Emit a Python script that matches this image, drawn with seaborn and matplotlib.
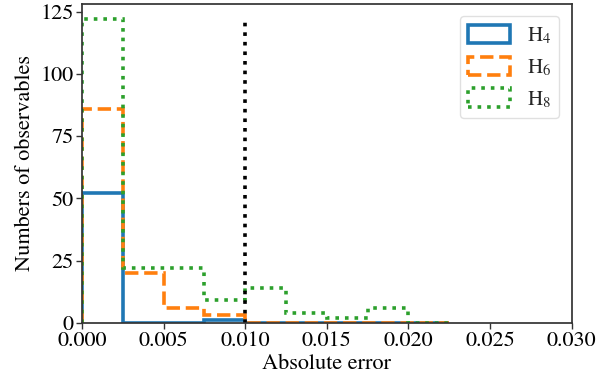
import numpy as np
import matplotlib
matplotlib.use("Agg")
import matplotlib.pyplot as plt
import seaborn as sns

# Histogram bins (absolute error) and per-bin counts for each model
bin_edges = [0.0, 0.0025, 0.005, 0.0075, 0.01, 0.0125, 0.015, 0.0175, 0.02, 0.0225]
counts_h4 = [52, 0, 0, 1, 0, 0, 0, 0, 0]
counts_h6 = [86, 20, 6, 3, 0, 0, 0, 0, 0]
counts_h8 = [122, 22, 22, 9, 14, 4, 2, 6, 0]
labels = [r"H$_4$", r"H$_6$", r"H$_8$"]
threshold = 0.01
x_ticks = [0.0, 0.005, 0.01, 0.015, 0.02, 0.025, 0.03]
y_ticks = [0, 25, 50, 75, 100, 125]

sns.set_theme(style="ticks")
plt.rcParams["font.family"] = ["STIXGeneral", "DejaVu Serif"]
plt.rcParams["mathtext.fontset"] = "stix"
plt.rcParams["axes.edgecolor"] = "0.2"
plt.rcParams["xtick.color"] = "0.2"
plt.rcParams["ytick.color"] = "0.2"

palette = sns.color_palette("tab10")
styles = ["-", "--", ":"]

fig, ax = plt.subplots(figsize=(5.98, 3.83), dpi=100)
fig.subplots_adjust(left=0.137, right=0.956, top=0.99, bottom=0.157)

edges = np.array(bin_edges)
centers = (edges[:-1] + edges[1:]) / 2
for counts, lab, col, ls in zip([counts_h4, counts_h6, counts_h8], labels, palette, styles):
    ax.hist(centers, bins=edges, weights=counts, histtype="step",
            color=col, linestyle=ls, linewidth=2.6, label=lab)

ax.vlines(threshold, 0, max(counts_h8), colors="black", linestyles=":", linewidth=2.6)

ax.set_xlim(0, 0.03)
ax.set_xticks(x_ticks)
ax.set_xticklabels([f"{t:.3f}" for t in x_ticks], fontsize=16, color="black")
ax.set_yticks(y_ticks)
ax.set_yticklabels([str(t) for t in y_ticks], fontsize=16, color="black")
ax.set_xlabel("Absolute error", fontsize=16, color="black", labelpad=2)
ax.set_ylabel("Numbers of observables", fontsize=16, color="black", labelpad=4)
ax.tick_params(direction="out", length=4, width=1, pad=2)

leg = ax.legend(loc="upper right", fontsize=15, frameon=True, fancybox=True,
                handleheight=1.0, handlelength=2.0, handletextpad=0.8,
                borderaxespad=0.6)
leg.get_frame().set_edgecolor("0.85")

fig.savefig("out.png", dpi=100)
